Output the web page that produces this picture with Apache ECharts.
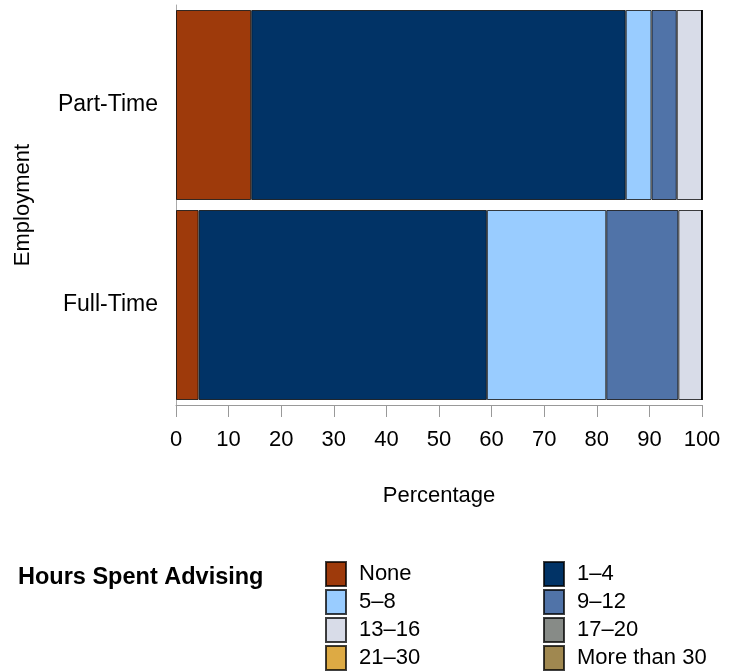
<!DOCTYPE html>
<html>
<head>
<meta charset="utf-8">
<script src="https://cdn.jsdelivr.net/npm/echarts@6/dist/echarts.min.js"></script>
<style>html,body{margin:0;padding:0;background:#fff;}#c{width:734px;height:672px;}</style>
</head>
<body>
<div id="c"></div>
<script>
const categories = ['Part-Time', 'Full-Time'];
const seriesNames = ['None', '1–4', '5–8', '9–12', '13–16', '17–20', '21–30', 'More than 30'];
const none = [14.3, 4.3];
const h1to4 = [71.2, 54.8];
const h5to8 = [4.9, 22.7];
const h9to12 = [4.8, 13.7];
const h13to16 = [4.8, 4.5];
const h17to20 = [0, 0];
const h21to30 = [0, 0];
const hOver30 = [0, 0];
const xTicks = [0, 10, 20, 30, 40, 50, 60, 70, 80, 90, 100];
const colors = ['#9E3A0B', '#013366', '#99CCFF', '#5073A8', '#D8DCE8', '#878B87', '#DDAA44', '#A08850'];
const values = [none, h1to4, h5to8, h9to12, h13to16, h17to20, h21to30, hOver30];

const FONT = 'Liberation Sans, Arial, sans-serif';
const FS = 22;
const chart = echarts.init(document.getElementById('c'));
// one legend per item, laid out in two columns, row-wise order
const legends = seriesNames.map((n, i) => ({
  orient: 'horizontal', padding: 0, itemWidth: 20, itemHeight: 24, icon: 'rect',
  left: i % 2 === 0 ? 325 : 543, top: 561 + Math.floor(i / 2) * 28,
  data: [n],
  textStyle: { fontFamily: FONT, fontSize: FS, color: '#000', padding: [0, 0, 0, 8] }
}));
chart.setOption({
  animation: false,
  grid: { left: 176, right: 32, top: 5, bottom: 267 },
  title: {
    text: 'Hours Spent Advising', left: 18, top: 566, padding: 0,
    textStyle: { fontFamily: FONT, fontSize: 23.5, fontWeight: 'bold', color: '#000' }
  },
  legend: legends,
  xAxis: {
    type: 'value', min: 0, max: 100, interval: 10,
    name: 'Percentage', nameLocation: 'middle', nameGap: 80,
    nameTextStyle: { fontFamily: FONT, fontSize: FS, color: '#000' },
    axisLine: { show: true, lineStyle: { color: '#999', width: 1 } },
    axisTick: { show: true, length: 12, lineStyle: { color: '#999' } },
    axisLabel: { fontFamily: FONT, fontSize: FS, color: '#000', margin: 24, formatter: v => xTicks.includes(v) ? String(v) : '' },
    splitLine: { show: false }
  },
  yAxis: {
    type: 'category', data: categories, inverse: true,
    name: 'Employment', nameLocation: 'middle', nameGap: 142,
    nameTextStyle: { fontFamily: FONT, fontSize: FS, color: '#000' },
    axisLine: { show: true, lineStyle: { color: '#aaa', width: 1 } },
    axisTick: { show: false },
    axisLabel: { fontFamily: FONT, fontSize: 23, color: '#000', margin: 18 }
  },
  series: seriesNames.map((n, i) => ({
    name: n, type: 'bar', stack: 'total', data: values[i],
    barCategoryGap: '5%',
    itemStyle: { color: colors[i], borderColor: 'rgba(0,0,0,0.75)', borderWidth: 1 },
    emphasis: { disabled: true }
  }))
});
</script>
</body>
</html>
